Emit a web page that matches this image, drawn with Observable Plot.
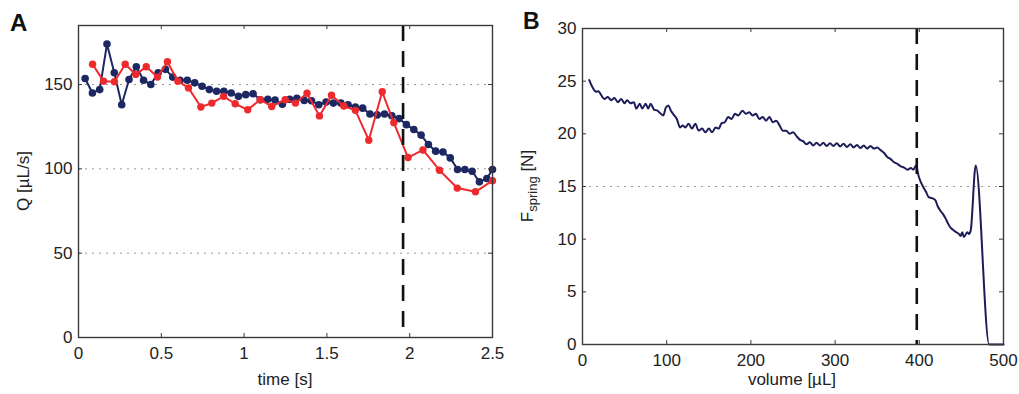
<!DOCTYPE html>
<html><head><meta charset="utf-8">
<script src="https://cdn.jsdelivr.net/npm/d3@7"></script>
<script src="https://cdn.jsdelivr.net/npm/@observablehq/plot@0.6"></script>
<style>
body{margin:0;background:#fff;}
#fig{position:relative;width:1019px;height:394px;overflow:hidden;background:#fff;}
#fig svg{position:absolute;top:0;}
</style></head><body><div id="fig"></div>
<script>
// ---------- Panel A data ----------
const blueT = [0.040,0.084,0.128,0.172,0.216,0.261,0.305,0.349,0.393,0.437,0.481,0.525,0.569,0.613,0.657,0.702,0.746,0.790,0.834,0.878,0.922,0.966,1.010,1.054,1.098,1.143,1.187,1.231,1.275,1.319,1.363,1.407,1.451,1.495,1.539,1.584,1.628,1.672,1.716,1.760,1.804,1.848,1.892,1.936,1.980,2.025,2.069,2.113,2.157,2.201,2.245,2.289,2.333,2.377,2.421,2.466,2.500];
const blueQ = [153.6,145,147,174,157,138,153,160.5,152.5,150,157,159,154.4,152.5,152.5,151,149,147,146,146,145,143,144,144.5,141,141.2,140.8,138.3,141.2,141.8,140.6,140.4,138,139.6,139,139,138,136.7,136,132.5,132,132.5,131.5,129.8,126.2,123.3,120,114.4,110.5,110,106.5,99.6,99.6,98.6,92.3,94.3,99.6];
const redT = [0.085,0.151,0.217,0.282,0.346,0.409,0.477,0.537,0.600,0.664,0.739,0.805,0.876,0.946,1.022,1.097,1.167,1.248,1.310,1.380,1.455,1.528,1.602,1.672,1.753,1.834,1.904,1.990,2.080,2.180,2.287,2.397,2.500];
const redQ = [162,152,151.7,162,156,160.5,154.4,163.5,152,148,136.7,139,143,138.6,135,141,137,141,139,144.8,131.4,143.6,137.3,134.7,117,145.7,127.4,106.7,111.2,99.2,88.6,86.4,93];
const xTicksA = [0,0.5,1,1.5,2,2.5];
const yTicksA = [0,50,100,150];
const gridA = [50,100,150];
const markA = 1.96;

// ---------- Panel B data ----------
const volB = [8,12,16,19,22,26,30,34,38,42,46,50,53,57,61,64,68,71,75,78,81,85,89,93,96,99,102,105,109,112,116,119,122,126,130,134,138,142,146,150,154,158,162,165,169,173,177,181,185,190,194,198,202,206,210,214,218,222,226,230,234,238,242,246,250,255,259,262,266,270,274,278,282,286,290,294,298,302,306,310,314,318,322,326,330,334,338,342,346,350,354,358,362,366,370,374,378,382,386,390,393,396,399.5,405,408,411,415,419,422,425,428,431,434,437,440,443,447,449,451,453,457,459,461,467,483,500];
const forceB = [25.1,24.4,24.0,24.05,23.7,23.3,23.5,23.2,23.4,23.0,23.3,22.9,23.2,22.9,23.0,22.4,22.85,22.4,22.85,22.4,22.85,22.3,22.2,21.9,21.75,22.5,22.7,22.2,21.75,21.4,20.6,20.8,20.6,20.95,20.5,20.95,20.3,20.5,20.15,20.5,20.15,20.6,20.5,21.0,21.1,21.6,21.4,21.9,21.75,22.2,21.9,22.05,21.75,21.9,21.4,21.6,21.25,21.6,21.1,21.25,20.8,20.3,20.3,20.0,20.15,19.7,19.4,19.3,19.0,19.2,18.9,19.15,18.9,19.15,18.85,19.1,18.85,19.1,18.8,19.05,18.75,19.0,18.7,18.95,18.65,18.9,18.6,18.85,18.6,18.7,18.45,18.2,17.8,17.6,17.3,17.15,16.9,16.8,16.6,16.75,16.6,17.0,15.9,14.9,14.5,14.0,13.9,13.7,13.1,12.7,12.4,12.0,11.5,11.1,10.9,10.7,10.5,10.3,10.65,10.2,10.65,10.5,10.8,17.0,0,0];
const xTicksB = [0,100,200,300,400,500];
const yTicksB = [0,5,10,15,20,25,30];
const gridB = [15];
const markB = 397;

const NAVY = "#1d2862", RED = "#ee2a2e", LINEB = "#1c1c58";
const FONT = "'Liberation Sans', Arial, Helvetica, sans-serif";

function panel({width, height, mL, mR, mT, mB, xDom, yDom, xTicks, yTicks, grid, mark, layers}) {
  const fw = width - mL - mR, fh = height - mT - mB;
  return Plot.plot({
    width, height, marginLeft: mL, marginRight: mR, marginTop: mT, marginBottom: mB,
    style: {fontFamily: FONT, fontSize: "17px", background: "white", color: "#222", overflow: "visible"},
    x: {domain: xDom, ticks: xTicks, tickFormat: d => String(d), tickSize: 0, tickPadding: 9, label: null},
    y: {domain: yDom, ticks: yTicks, tickFormat: d => String(d), tickSize: 0, tickPadding: 6, label: null},
    marks: [
      Plot.ruleY(grid, {y: d => d, stroke: "#999", strokeWidth: 1, strokeDasharray: "2,5"}),
      ...layers,
      Plot.ruleX([mark], {x: d => d, stroke: "#111", strokeWidth: 2.6, strokeDasharray: "16,10"}),
      Plot.frame({stroke: "#3a3a3a", strokeWidth: 1.4}),
      Plot.tickX(xTicks, {x: d => d, insetTop: fh - 4, stroke: "#3a3a3a"}),
      Plot.tickX(xTicks, {x: d => d, insetBottom: fh - 4, stroke: "#3a3a3a"}),
      Plot.tickY(yTicks, {y: d => d, insetRight: fw - 4, stroke: "#3a3a3a"}),
      Plot.tickY(yTicks, {y: d => d, insetLeft: fw - 4, stroke: "#3a3a3a"})
    ]
  });
}

const blue = blueT.map((t, i) => ({t, q: blueQ[i]}));
const red = redT.map((t, i) => ({t, q: redQ[i]}));
const force = volB.map((v, i) => ({v, f: forceB[i]}));

const svgA = panel({
  width: 510, height: 394, mL: 78, mR: 18, mT: 25, mB: 57,
  xDom: [0, 2.5], yDom: [0, 185], xTicks: xTicksA, yTicks: yTicksA, grid: gridA, mark: markA,
  layers: [
    Plot.line(blue, {x: "t", y: "q", stroke: NAVY, strokeWidth: 2}),
    Plot.dot(blue, {x: "t", y: "q", fill: NAVY, r: 3.8}),
    Plot.line(red, {x: "t", y: "q", stroke: RED, strokeWidth: 2}),
    Plot.dot(red, {x: "t", y: "q", fill: RED, r: 3.7})
  ]
});
const svgB = panel({
  width: 509, height: 394, mL: 72, mR: 16, mT: 28, mB: 50,
  xDom: [0, 500], yDom: [0, 30], xTicks: xTicksB, yTicks: yTicksB, grid: gridB, mark: markB,
  layers: [
    Plot.line(force, {x: "v", y: "f", stroke: LINEB, strokeWidth: 2, curve: "monotone-x"})
  ]
});
svgA.style.left = "0px";
svgB.style.left = "510px";
const fig = document.getElementById("fig");
fig.appendChild(svgA);
fig.appendChild(svgB);

// labels
const sA = d3.select(svgA), sB = d3.select(svgB);
sA.append("text").attr("x", 10).attr("y", 31).attr("text-anchor", "start").attr("font-weight", "bold").attr("font-size", 24).attr("fill", "#111").text("A");
sB.append("text").attr("x", 13).attr("y", 29).attr("text-anchor", "start").attr("font-weight", "bold").attr("font-size", 23).attr("fill", "#111").text("B");
sA.append("text").attr("x", 285).attr("y", 385).attr("text-anchor", "middle").attr("font-size", 17).attr("fill", "#222").text("time [s]");
sB.append("text").attr("x", 282).attr("y", 385).attr("text-anchor", "middle").attr("font-size", 17).attr("fill", "#222").text("volume [µL]");
sA.append("text").attr("transform", "translate(29,181) rotate(-90)").attr("text-anchor", "middle").attr("font-size", 17).attr("fill", "#222").text("Q [µL/s]");
const yl = sB.append("text").attr("transform", "translate(23,186) rotate(-90)").attr("text-anchor", "middle").attr("font-size", 17).attr("fill", "#222");
yl.append("tspan").text("F");
yl.append("tspan").attr("font-size", 13).attr("dy", 4).text("spring");
yl.append("tspan").attr("dy", -4).text(" [N]");
</script></body></html>
